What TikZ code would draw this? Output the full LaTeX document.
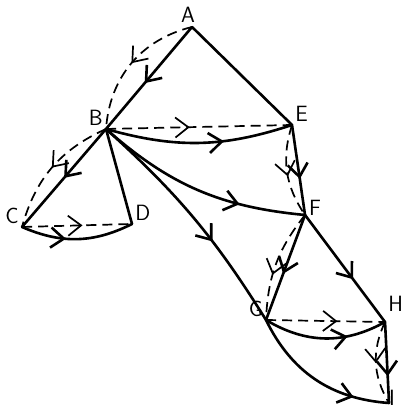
\documentclass[tikz,border=0pt]{standalone}
\usepackage{tikz}
\usetikzlibrary{arrows.meta,decorations.markings}
\tikzset{
  barb/.style={postaction={decorate}, decoration={markings, mark=at position #1 with {\arrow{Straight Barb[length=13pt,width=20pt]}}}},
  barb/.default=0.55,
  link/.style={line width=2.6pt, line cap=round},
  hop/.style={line width=1.7pt, dash pattern=on 10pt off 6pt},
}
\begin{document}
\begin{tikzpicture}[scale=0.35, label distance=3pt,
    every label/.style={font=\sffamily\fontsize{22}{22}\selectfont, inner sep=1pt}]
  \useasboundingbox(0,0)rectangle(40.4,41);
  % vertices
  \coordinate[label={[xshift=-4pt]above:A}](A)at(19.2,38.3);
  \coordinate[label=above left:B](B)at(10.6,28.1);
  \coordinate[label=above right:E](E)at(29.2,28.5);
  \coordinate[label=above left:C](C)at(2.2,18.3);
  \coordinate[label=above right:D](D)at(13.2,18.6);
  \coordinate[label={[yshift=7pt]right:F}](F)at(30.5,19.5);
  \coordinate[label=above left:G](G)at(26.6,9.0);
  \coordinate[label={[yshift=7pt]above right:H}](H)at(38.5,8.8);
  \coordinate[label={[xshift=-4pt,yshift=5pt]right:I}](I)at(38.9,0.7);
  % solid edges
  \path[draw, link, barb](A)to(B);
  \path[draw, link](A)to(E);
  \path[draw, link, barb=0.5](B)to(C);
  \path[draw, link](B)to(D);
  \path[draw, link, barb=0.63](B)to[bend right=17](E);
  \path[draw, link, barb=0.7](B)to[bend right=18](F);
  \path[draw, link, barb=0.62](B)to[bend left=8](G);
  \path[draw, link, barb=0.4](C)to[bend right=25](D);
  \path[draw, link, barb=0.6](E)to(F);
  \path[draw, link, barb=0.56](F)to(G);
  \path[draw, link, barb=0.6](F)to(H);
  \path[draw, link, barb=0.68](G)to[bend right=30](H);
  \path[draw, link, barb=0.77](G)to[bend right=30](I);
  \path[draw, link, barb=0.67](H)to(I);
  % dashed edges
  \path[draw, hop, barb=0.5](A)to[bend right=36](B);
  \path[draw, hop, barb=0.5](B)to[bend right=25](C);
  \path[draw, hop, barb=0.45](B)to(E);
  \path[draw, hop, barb](C)to(D);
  \path[draw, hop, barb](E)to[bend right=26](F);
  \path[draw, hop, barb=0.6](F)to[bend right=18](G);
  \path[draw, hop, barb=0.6](G)to(H);
  \path[draw, hop, barb=0.5](H)to[bend right=28](I);
\end{tikzpicture}
\end{document}
